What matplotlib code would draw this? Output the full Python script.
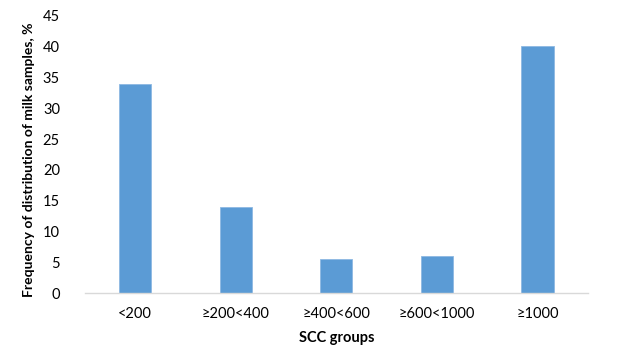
import matplotlib
matplotlib.use("Agg")
import matplotlib.pyplot as plt

categories = ["<200", "≥200<400", "≥400<600", "≥600<1000", "≥1000"]
values = [33.9, 14.0, 5.6, 6.1, 40.1]
yticks = [0, 5, 10, 15, 20, 25, 30, 35, 40, 45]

plt.rcParams['font.family'] = ['Lato', 'DejaVu Sans']

fig = plt.figure(figsize=(6.2, 3.54), dpi=100)
ax = fig.add_axes([0.137, 0.172, 0.811, 0.783])
x = list(range(len(categories)))
ax.bar(x, values, width=0.32, color="#5B9BD5", edgecolor="#8DB8E2", linewidth=0.6, zorder=2)
ax.set_xlim(-0.5, len(categories) - 0.5)
ax.set_ylim(0, 45)
ax.set_yticks(yticks)
ax.set_xticks(x)
ax.set_xticklabels(categories, fontsize=10.5, color="#000000")
ax.tick_params(axis='y', labelsize=10.5, length=0, pad=18)
ax.tick_params(axis='x', length=0, pad=10)
for s in ["top", "right", "left"]:
    ax.spines[s].set_visible(False)
ax.spines["bottom"].set_color("#D9D9D9")
ax.spines["bottom"].set_linewidth(1.0)
ax.set_xlabel("SCC groups", fontsize=10.5, fontweight="bold", labelpad=7)
ax.set_ylabel("Frequency of distribution of milk samples, %", fontsize=10, fontweight="bold")
ax.yaxis.set_label_coords(-0.1, 0.48)
fig.savefig("out.png", dpi=100)
